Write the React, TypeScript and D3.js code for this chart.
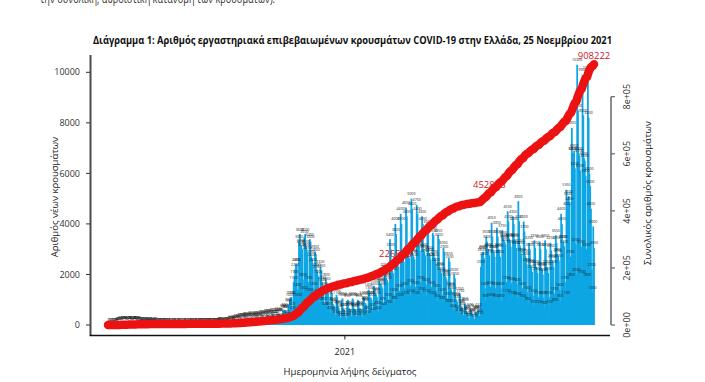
import React from 'react';
import * as d3 from 'd3';

// ---------- data ----------
const startDate = '2020-02-26';

// daily laboratory-confirmed cases by sampling date (weeks of 7 days, Wed..Tue)
const dailyCases: number[] = [
  1, 2, 3, 3, 2, 4, 5,
  9, 14, 20, 25, 18, 40, 45,
  60, 70, 80, 75, 50, 90, 95,
  100, 95, 90, 70, 55, 110, 105,
  95, 90, 85, 60, 50, 100, 95,
  90, 85, 80, 60, 45, 95, 85,
  70, 60, 55, 40, 30, 70, 65,
  55, 50, 45, 30, 25, 60, 55,
  45, 40, 35, 25, 20, 45, 40,
  30, 25, 20, 15, 10, 25, 25,
  20, 18, 15, 10, 8, 20, 18,
  15, 14, 12, 8, 6, 15, 14,
  12, 10, 10, 6, 5, 14, 12,
  10, 9, 8, 5, 4, 12, 10,
  12, 10, 9, 6, 5, 14, 12,
  14, 12, 10, 7, 5, 16, 15,
  16, 14, 12, 8, 6, 18, 16,
  18, 16, 14, 10, 8, 22, 20,
  22, 20, 18, 12, 10, 28, 25,
  28, 25, 22, 15, 12, 35, 32,
  35, 30, 28, 20, 15, 45, 40,
  45, 40, 35, 25, 20, 60, 55,
  70, 65, 60, 45, 35, 95, 90,
  120, 115, 105, 80, 60, 150, 145,
  170, 160, 150, 110, 80, 220, 210,
  210, 200, 190, 140, 100, 260, 250,
  220, 210, 200, 150, 110, 280, 270,
  240, 230, 215, 160, 120, 300, 290,
  260, 250, 235, 175, 130, 330, 320,
  300, 290, 270, 200, 150, 380, 370,
  330, 320, 300, 220, 170, 420, 400,
  350, 340, 320, 240, 180, 450, 430,
  420, 400, 370, 230, 160, 560, 540,
  600, 580, 540, 330, 240, 820, 790,
  1000, 1100, 1100, 650, 480, 1700, 1900,
  2200, 2400, 2400, 1400, 1000, 3300, 3600,
  3100, 3150, 3000, 1800, 1300, 3500, 3600,
  3100, 3000, 2850, 1700, 1200, 3400, 3300,
  2700, 2600, 2400, 1450, 1050, 2900, 2800,
  2200, 2100, 1900, 1150, 850, 2300, 2150,
  1700, 1600, 1450, 850, 650, 1800, 1650,
  1300, 1250, 1100, 650, 480, 1350, 1250,
  850, 800, 750, 450, 330, 1200, 1100,
  720, 680, 560, 300, 220, 1000, 1050,
  620, 600, 420, 280, 200, 950, 1000,
  680, 650, 600, 380, 270, 1050, 1000,
  650, 630, 580, 360, 260, 1000, 950,
  680, 660, 620, 380, 270, 1100, 1050,
  880, 860, 800, 480, 350, 1400, 1300,
  1100, 1080, 1000, 600, 440, 1550, 1450,
  1250, 1200, 1100, 680, 500, 1750, 1650,
  1600, 1550, 1450, 870, 640, 2200, 2100,
  1850, 1800, 1700, 1000, 750, 3400, 3000,
  2200, 2150, 2050, 1200, 880, 4000, 3600,
  2450, 2400, 2300, 1350, 1000, 4400, 4000,
  2650, 2600, 2500, 1450, 1100, 4650, 4300,
  2850, 2800, 2650, 1550, 1150, 5000, 4600,
  2750, 2700, 2600, 1500, 1100, 4750, 4400,
  3200, 3100, 2950, 1700, 1250, 4300, 4000,
  3000, 2900, 2750, 1600, 1150, 3900, 3650,
  2850, 2800, 2600, 1500, 1100, 3650, 3550,
  2700, 2600, 2400, 1350, 950, 3550, 3400,
  2250, 2200, 2050, 1200, 880, 3050, 2900,
  1950, 1900, 1800, 1050, 780, 2650, 2500,
  1450, 1400, 1300, 760, 560, 2000, 1850,
  1050, 1000, 920, 540, 400, 1250, 1150,
  760, 720, 660, 400, 290, 850, 800,
  520, 500, 460, 280, 200, 600, 570,
  430, 410, 380, 240, 170, 520, 500,
  500, 540, 620, 380, 300, 2300, 2800,
  2850, 2900, 2650, 1450, 950, 3500, 3300,
  2950, 3000, 2750, 1500, 1000, 4050, 3500,
  2900, 2900, 2700, 1450, 950, 3850, 3500,
  3000, 2950, 2700, 1450, 950, 3750, 3450,
  3350, 3300, 3200, 1700, 1150, 4500, 4100,
  3400, 3350, 3100, 1650, 1100, 4300, 4000,
  3400, 3350, 3050, 1600, 1050, 4900, 4100,
  3150, 3050, 2800, 1450, 950, 4100, 3700,
  2750, 2650, 2400, 1300, 850, 3250, 3000,
  2350, 2300, 2100, 1150, 750, 3350, 3050,
  2300, 2250, 2050, 1100, 720, 3300, 3000,
  2250, 2200, 2000, 1080, 700, 3350, 3000,
  2300, 2250, 2050, 1100, 720, 3250, 2950,
  2550, 2500, 2300, 1250, 820, 3550, 3250,
  2800, 2750, 2550, 1400, 950, 4400, 4000,
  3300, 3300, 3100, 1700, 1100, 5350, 4600,
  5000, 5100, 4800, 2700, 1800, 7800, 6800,
  6800, 6900, 6200, 3200, 2000, 10300, 8500,
  6800, 6700, 6100, 3100, 1900, 9900, 8300,
  6600, 6500, 5900, 3000, 1800, 10000, 8200,
  6000, 5500, 4600, 2200, 1300, 3900, 3050,
];

const yTicks = [0, 2000, 4000, 6000, 8000, 10000];
const y2Ticks = [0, 200000, 400000, 600000, 800000];
const y2TickLabels = ['0e+00', '2e+05', '4e+05', '6e+05', '8e+05'];
const xTickDates = ['2021-01-01'];
const xTickLabels = ['2021'];
const cumLabelDays = [376, 499, 636];
const cumLabelTexts = ['226538', '452878', '908222'];

const topText = 'την συνολική, αθροιστική κατανομή των κρουσμάτων).';
const titleText =
  'Διάγραμμα 1: Αριθμός εργαστηριακά επιβεβαιωμένων κρουσμάτων COVID-19 στην Ελλάδα, 25 Νοεμβρίου 2021';
const yTitle = 'Αριθμός νέων κρουσμάτων';
const y2Title = 'Συνολικός αριθμός κρουσμάτων';
const xTitle = 'Ημερομηνία λήψης δείγματος';

// ---------- chart ----------
const W = 705;
const H = 382;
const FONT = '"Open Sans", "DejaVu Sans", sans-serif';
const BAR = '#0ea6e4';
const RED = '#ec1212';

export default function App() {
  const parse = d3.utcParse('%Y-%m-%d');
  const start = parse(startDate) as Date;
  const dates = dailyCases.map((_, i) => d3.utcDay.offset(start, i));
  const cum = Array.from(d3.cumsum(dailyCases));

  const x = d3
    .scaleUtc()
    .domain([dates[0], dates[dates.length - 1]])
    .range([108, 594]);
  const y = d3.scaleLinear().domain([0, 10000]).range([325, 72.3]);
  const y2 = d3.scaleLinear().domain([0, 800000]).range([325, 96.7]);

  const barW = 1.8;

  const line = d3
    .line<number>()
    .x((_, i) => x(dates[i]))
    .y((c) => y2(c))
    .curve(d3.curveLinear);

  return (
    <svg
      width={W}
      height={H}
      style={{ position: 'absolute', left: 0, top: 0, background: '#fff' }}
      fontFamily={FONT}
    >
      <rect x={0} y={0} width={W} height={H} fill="#fff" />
      <text x={40} y={3} fontSize={12} fill="#333" textLength={235} lengthAdjust="spacingAndGlyphs">
        {topText}
      </text>
      <text
        x={352.5}
        y={44}
        fontSize={10}
        fontWeight="bold"
        textAnchor="middle"
        fill="#111"
        textLength={519}
        lengthAdjust="spacingAndGlyphs"
      >
        {titleText}
      </text>

      {/* bars */}
      <g fill={BAR}>
        {dailyCases.map((v, i) => (
          <rect key={i} x={x(dates[i]) - barW / 2} y={y(v)} width={barW} height={y(0) - y(v)} />
        ))}
      </g>

      {/* value labels */}
      <g fontSize={3.6} fill="#1a1a1a" textAnchor="middle">
        {dailyCases.map((v, i) => (
          <text key={i} x={x(dates[i])} y={y(v) - 3.5}>
            {v}
          </text>
        ))}
      </g>

      {/* cumulative labels */}
      <g fontSize={9.5} fill="#d3142a" textAnchor="middle">
        {cumLabelDays.map((d, i) => (
          <text key={i} x={x(dates[d])} y={y2(cum[d]) - 5}>
            {cumLabelTexts[i]}
          </text>
        ))}
      </g>

      {/* cumulative line */}
      <path
        d={line(cum) || ''}
        fill="none"
        stroke={RED}
        strokeWidth={8.5}
        strokeLinecap="round"
        strokeLinejoin="round"
      />

      {/* left box / axis */}
      <line x1={90.5} x2={90.5} y1={55} y2={335} stroke="#4a4a4a" strokeWidth={2} />
      <line x1={89.5} x2={610} y1={335.5} y2={335.5} stroke="#111" strokeWidth={1.3} />
      {yTicks.map((t) => (
        <g key={t}>
          <line x1={86} x2={90} y1={y(t)} y2={y(t)} stroke="#333" strokeWidth={1} />
          <text x={80} y={y(t)} dy="0.35em" fontSize={9} textAnchor="end" fill="#333">
            {t}
          </text>
        </g>
      ))}
      <text
        transform={`translate(55,197) rotate(-90)`}
        fontSize={9.5}
        textAnchor="middle"
        dy="0.35em"
        fill="#222"
      >
        {yTitle}
      </text>

      {/* right axis */}
      <line x1={611} x2={611} y1={y2(0)} y2={y2(800000)} stroke="#666" strokeWidth={1.5} />
      {y2Ticks.map((t, i) => (
        <g key={t}>
          <line x1={611} x2={615} y1={y2(t)} y2={y2(t)} stroke="#666" strokeWidth={1.2} />
          <text
            transform={`translate(627,${y2(t)}) rotate(-90)`}
            fontSize={9}
            textAnchor="middle"
            dy="0.35em"
            fill="#333"
          >
            {y2TickLabels[i]}
          </text>
        </g>
      ))}
      <text
        transform={`translate(648,193) rotate(-90)`}
        fontSize={9.5}
        textAnchor="middle"
        dy="0.35em"
        fill="#222"
      >
        {y2Title}
      </text>

      {/* x axis */}
      {xTickDates.map((d, i) => {
        const xx = x(parse(d) as Date);
        return (
          <g key={d}>
            <line x1={xx} x2={xx} y1={335} y2={339.5} stroke="#222" strokeWidth={1} />
            <text x={xx} y={352} dy="0.35em" fontSize={9} textAnchor="middle" fill="#222">
              {xTickLabels[i]}
            </text>
          </g>
        );
      })}
      <text x={350} y={372} dy="0.35em" fontSize={9.5} textAnchor="middle" fill="#222">
        {xTitle}
      </text>
    </svg>
  );
}
